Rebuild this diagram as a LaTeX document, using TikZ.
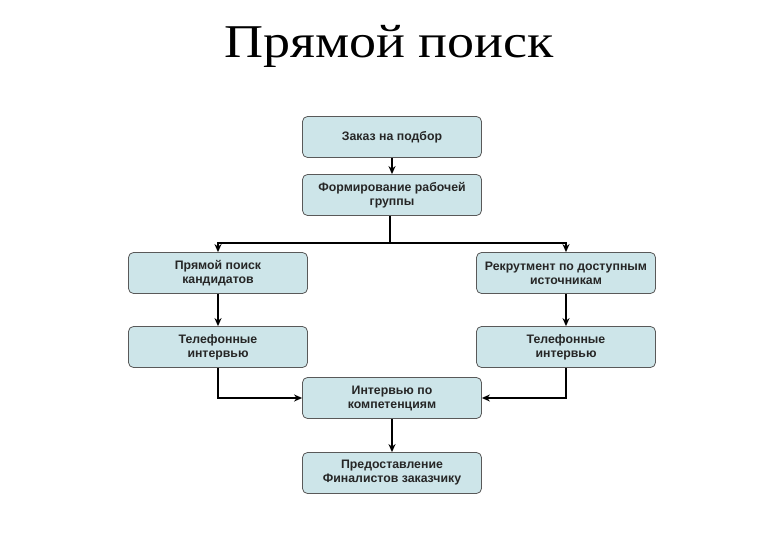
\documentclass[tikz,border=0pt]{standalone}
\usepackage{fontspec}
\setmainfont{Liberation Serif}
\newfontfamily\titlefont[FakeStretch=1.15]{Liberation Serif}
\newfontfamily\boxfont{Liberation Sans}
\usetikzlibrary{arrows.meta,shadows}
\begin{document}
\begin{tikzpicture}[x=1pt,y=-1pt,
  box/.style={draw=black!65, line width=0.8pt, rounded corners=5pt, fill=boxfill,
    minimum width=179pt, minimum height=41pt, align=center, inner sep=2pt,
    font=\boxfont\bfseries\fontsize{12.3}{14}\selectfont, text=black!85},
  conn/.style={line width=1.8pt, -{Stealth[length=8pt,width=7pt]}},
  plain/.style={line width=1.8pt}]
\definecolor{boxfill}{HTML}{CDE5E9}
\useasboundingbox (0,0) rectangle (780,540);
\node (title) at (389,46) {\titlefont\fontsize{47}{50}\selectfont Прямой поиск};
\node[box] (b1) at (392,137) {Заказ на подбор};
\node[box] (b2) at (392,195) {Формирование рабочей\\группы};
\node[box] (b3) at (218,273) {Прямой поиск\\кандидатов};
\node[box] (b4) at (566,273) {Рекрутмент по доступным\\источникам};
\node[box] (b5) at (218,347) {Телефонные\\интервью};
\node[box] (b6) at (566,347) {Телефонные\\интервью};
\node[box] (b7) at (392,398) {Интервью по\\компетенциям};
\node[box] (b8) at (392,473) {Предоставление\\Финалистов заказчику};
\coordinate (j) at (390,243);
\draw[conn] (b1) -- (b2);
\draw[plain] (b2.south -| j) -- (j);
\draw[conn] (j) -| (b3.north);
\draw[conn] (j) -| (b4.north);
\draw[conn] (b3) -- (b5);
\draw[conn] (b4) -- (b6);
\draw[conn] (b5.south) |- (b7.west);
\draw[conn] (b6.south) |- (b7.east);
\draw[conn] (b7) -- (b8);
\end{tikzpicture}
\end{document}
